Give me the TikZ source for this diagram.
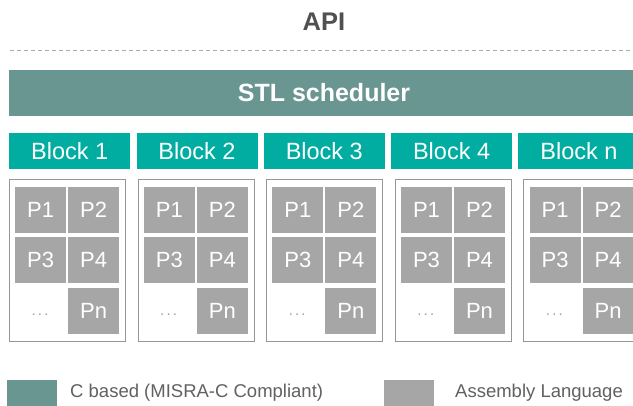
\documentclass[tikz,border=0pt]{standalone}
\usepackage{fontspec}
\setmainfont{Liberation Sans}
\definecolor{cbased}{RGB}{106,150,145}
\definecolor{blockhead}{RGB}{0,173,160}
\definecolor{asmgray}{RGB}{166,166,166}
\definecolor{framegray}{RGB}{150,150,150}
\definecolor{titlegray}{RGB}{80,80,80}
\definecolor{dotsgray}{RGB}{160,160,160}
\tikzset{
  headbox/.style={fill=blockhead, draw=none, inner sep=0pt, anchor=north west,
    minimum width=121pt, minimum height=36pt, text=white, font=\fontsize{23.5}{23.5}\selectfont},
  framebox/.style={draw=framegray, line width=0.9pt, fill=white, inner sep=0pt, anchor=north west,
    minimum width=116pt, minimum height=162pt},
  cell/.style={fill=asmgray, draw=none, inner sep=0pt, anchor=north west,
    minimum width=51pt, minimum height=46pt, text=white, font=\fontsize{22}{22}\selectfont},
  dots/.style={text=dotsgray, font=\fontsize{15}{15}\selectfont, inner sep=0pt, anchor=base},
  legendsq/.style={draw=none, inner sep=0pt, anchor=north west, minimum width=50pt, minimum height=26pt},
  legendtxt/.style={anchor=west, inner sep=0pt, text=titlegray!90, font=\fontsize{18.5}{18.5}\selectfont}
}
\begin{document}
\begin{tikzpicture}[x=1pt, y=-1pt]
  \clip (0,0) rectangle (633,406);
  \fill[white] (0,0) rectangle (633,406);

  % interface title and separator
  \node[text=titlegray, font=\bfseries\fontsize{25.5}{25.5}\selectfont] (api) at (324,22) {API};
  \coordinate (sepL) at (10,50);
  \coordinate (sepR) at (640,50);
  \draw[framegray!80, line width=0.8pt, dash pattern=on 4pt off 3pt] (sepL) -- (sepR);

  % scheduler bar
  \node[fill=cbased, inner sep=0pt, anchor=north west, minimum width=640pt, minimum height=46pt] (stl) at (9,70) {};
  \node[text=white, font=\bfseries\fontsize{25}{25}\selectfont] (stltext) at (324,93) {STL scheduler};

  % blocks with their processes
  \foreach \i/\lbl in {0/1, 1/2, 2/3, 3/4, 4/n} {
    \pgfmathsetmacro{\hx}{9+127.3*\i}
    \pgfmathsetmacro{\fx}{9+128.6*\i}
    \node[headbox] (head\i) at (\hx,133) {Block \lbl};
    \node[framebox] (frame\i) at (\fx,179) {};
    \node[cell] (p1\i) at (\fx+6,187) {P1};
    \node[cell] (p2\i) at (\fx+59,187) {P2};
    \node[cell] (p3\i) at (\fx+6,237) {P3};
    \node[cell] (p4\i) at (\fx+59,237) {P4};
    \node[cell] (pn\i) at (\fx+59,288) {Pn};
    \node[dots] (dots\i) at (\fx+31,315.5) {.\hspace{2.2pt}.\hspace{2.2pt}.};
  }

  % legend
  \node[legendsq, fill=cbased] (legc) at (7,380) {};
  \node[legendtxt] (legctext) at (70,393) {C based (MISRA-C Compliant)};
  \node[legendsq, fill=asmgray] (lega) at (384,380) {};
  \node[legendtxt] (legatext) at (455,393) {Assembly Language};
\end{tikzpicture}
\end{document}
